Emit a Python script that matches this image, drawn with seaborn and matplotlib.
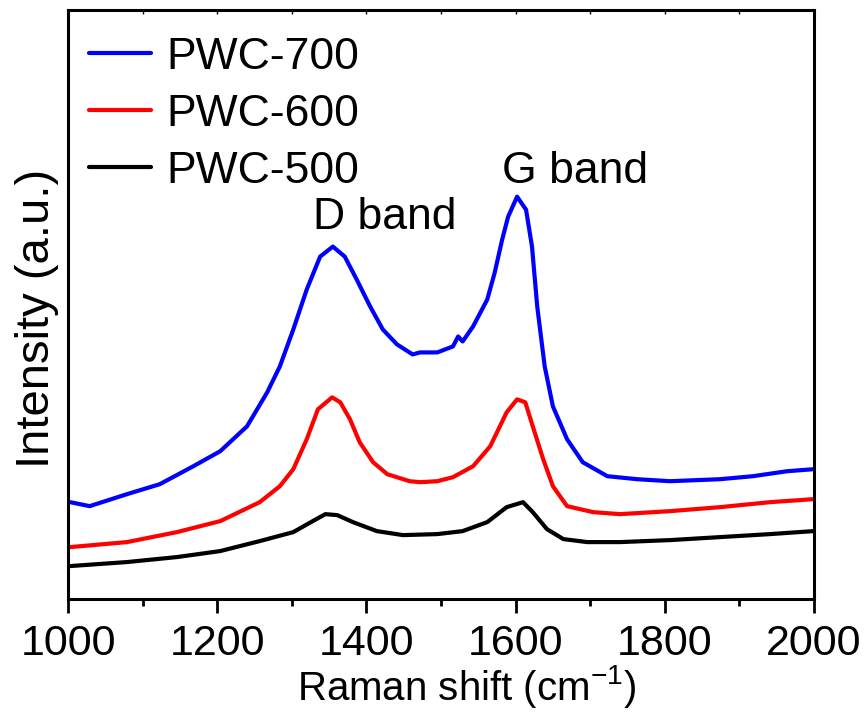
import numpy as np
import pandas as pd
import seaborn as sns
import matplotlib.pyplot as plt

# Raman spectra (intensity in arbitrary units)
x_700 = [1003, 1029, 1079, 1123, 1168, 1204, 1240, 1267, 1284, 1302, 1320, 1338, 1355, 1371, 1387,
         1405, 1422, 1441, 1462, 1472, 1495, 1516, 1523, 1529, 1543, 1562, 1572, 1582, 1590, 1602,
         1614, 1622, 1629, 1639, 1650, 1669, 1690, 1723, 1763, 1807, 1874, 1918, 1964, 1999]
y_700 = [97, 93, 105, 115, 133, 148, 173, 207, 233, 270, 310, 343, 353, 343, 320,
         293, 270, 255, 245, 247, 247, 253, 263, 258, 273, 300, 327, 360, 383, 403,
         390, 353, 293, 233, 193, 160, 137, 123, 120, 118, 120, 123, 128, 130]

x_600 = [1003, 1079, 1146, 1204, 1257, 1284, 1302, 1320, 1335, 1354, 1365, 1378, 1391, 1409, 1428,
         1458, 1472, 1495, 1516, 1543, 1566, 1588, 1602, 1613, 1623, 1637, 1650, 1669, 1704, 1740,
         1807, 1874, 1941, 1999]
y_600 = [52, 57, 67, 78, 97, 113, 130, 160, 190, 202, 197, 180, 157, 137, 125,
         118, 117, 118, 122, 133, 153, 187, 200, 197, 173, 140, 113, 93, 87, 85,
         88, 92, 97, 100]

x_500 = [1003, 1079, 1146, 1204, 1257, 1302, 1328, 1345, 1361, 1382, 1414, 1449, 1495, 1529, 1562,
         1588, 1610, 1623, 1642, 1664, 1696, 1740, 1807, 1874, 1941, 1999]
y_500 = [33, 37, 42, 48, 58, 67, 78, 85, 84, 77, 68, 64, 65, 68, 77,
         92, 97, 87, 70, 60, 57, 57, 59, 62, 65, 68]

labels = ["PWC-700", "PWC-600", "PWC-500"]
colors = ["#0000ff", "#ff0000", "#000000"]

df = pd.concat([
    pd.DataFrame({"shift": x_700, "intensity": y_700, "sample": labels[0]}),
    pd.DataFrame({"shift": x_600, "intensity": y_600, "sample": labels[1]}),
    pd.DataFrame({"shift": x_500, "intensity": y_500, "sample": labels[2]}),
])

sns.set_style("ticks")
plt.rcParams['font.family'] = ['Liberation Sans', 'DejaVu Sans']
plt.rcParams['mathtext.default'] = 'regular'
plt.rcParams['text.color'] = 'black'
plt.rcParams['axes.labelcolor'] = 'black'
plt.rcParams['xtick.color'] = 'black'
plt.rcParams['ytick.color'] = 'black'
plt.rcParams['axes.edgecolor'] = 'black'

fig = plt.figure(figsize=(8.68, 7.16), dpi=100)
ax = fig.add_axes([68 / 868, 1 - 599 / 716, 746 / 868, 589 / 716])

sns.lineplot(data=df, x="shift", y="intensity", hue="sample", hue_order=labels,
             palette=colors, linewidth=3, ax=ax, sort=False)

ax.set_xlim(1000, 2000)
ax.set_ylim(0, 590)
ax.set_xticks(np.arange(1000, 2001, 200))
ax.set_xticks(np.arange(1100, 2000, 200), minor=True)
ax.set_yticks([])
ax.tick_params(axis='x', which='major', direction='out', length=10, width=2, labelsize=31, pad=8)
ax.tick_params(axis='x', which='minor', direction='out', length=5, width=2)
for s in ax.spines.values():
    s.set_linewidth(2.2)

# short inward ticks on the top spine
top = ax.secondary_xaxis('top')
top.set_xticks(np.arange(1000, 2001, 100))
top.tick_params(direction='in', length=3, width=1, labeltop=False)

ax.set_xlabel("Raman shift (cm$^{-1}$)", fontsize=29)
ax.xaxis.set_label_coords(0.534, -0.108)
ax.set_ylabel("Intensity (a.u.)", fontsize=34)
ax.yaxis.set_label_coords(-0.012, 0.477)

ax.text(1425, 382, "D band", fontsize=32, ha='center', va='center')
ax.text(1680, 428, "G band", fontsize=32, ha='center', va='center')

leg = ax.legend(loc='upper left', bbox_to_anchor=(0.004, 0.985), frameon=False,
                handlelength=1.4, handletextpad=0.35, labelspacing=0.36, borderaxespad=0,
                prop={'family': 'Liberation Sans', 'size': 32})
for line in leg.get_lines():
    line.set_linewidth(3)

fig.savefig("out.png", dpi=100)
